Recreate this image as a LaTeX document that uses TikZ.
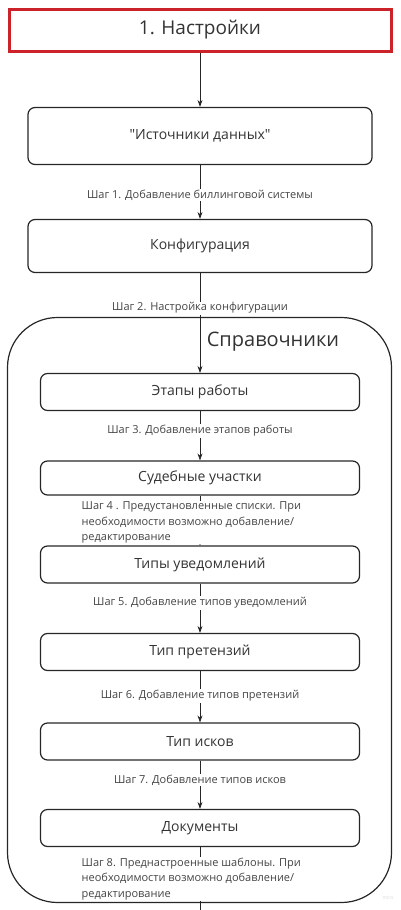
\documentclass[tikz,border=0pt]{standalone}
\usepackage{fontspec}
\setmainfont{Open Sans}
\usepackage{tikz}
\usetikzlibrary{arrows.meta, positioning}
\usepackage{xcolor}
\definecolor{alertred}{HTML}{CC2229}
\definecolor{inkgray}{HTML}{333333}
\definecolor{notegray}{HTML}{444444}

\tikzset{
    stagebox/.style={draw=black!85, rounded corners=7pt, line width=1.2pt, text=inkgray, font=\fontsize{14}{16}\selectfont},
    bigbox/.style={stagebox, minimum width=344pt},
    smallbox/.style={stagebox, minimum width=319pt},
    steplabel/.style={fill=white, text=notegray, font=\fontsize{11}{15.5}\selectfont, inner xsep=1.5pt, inner ysep=1pt},
    flow/.style={-{Stealth[length=7pt, width=5pt]}, line width=0.7pt, black!85}
}

\begin{document}
\begin{tikzpicture}[x=1pt, y=-1pt]
                \useasboundingbox (0,0) rectangle (400,910);

                % header
                \node[draw=alertred, line width=3pt, minimum width=382pt, minimum height=42pt, text=inkgray, font=\fontsize{19}{22}\selectfont] (settings) at (200,30) {1. Настройки};

                \node[bigbox, minimum height=57pt] (sources) at (200,136) {\textquotedbl Источники данных\textquotedbl};
                \node[bigbox, minimum height=53pt] (config) at (200,246) {Конфигурация};

                % directories frame
                \node[draw=black!85, line width=1.2pt, rounded corners=50pt, minimum width=384pt, minimum height=585pt] (refs) at (199.5,610) {};
                \node[text=inkgray, font=\fontsize{20}{24}\selectfont] (refstitle) at (273,342) {Справочники};

                \node[smallbox, minimum height=37pt] (stages) at (200,392) {Этапы работы};
                \node[smallbox, minimum height=34pt] (courts) at (200,478) {Судебные участки};
                \node[smallbox, minimum height=37pt] (notices) at (200,564.5) {Типы уведомлений};
                \node[smallbox, minimum height=37pt] (claims) at (200,652) {Тип претензий};
                \node[smallbox, minimum height=37pt] (suits) at (200,741.5) {Тип исков};
                \node[smallbox, minimum height=37pt] (docs) at (200,828) {Документы};
                \coordinate (tail) at (200,910);

                % connectors
                \draw[flow] (settings) -- (sources);
                \draw[flow] (sources) -- (config);
                \draw[flow] (config) -- (stages);
                \draw[flow] (stages) -- (courts);
                \draw[flow] (courts) -- (notices);
                \draw[flow] (notices) -- (claims);
                \draw[flow] (claims) -- (suits);
                \draw[flow] (suits) -- (docs);
                \draw[line width=0.7pt, black!85] (docs) -- (tail);

                % step notes
                \node[steplabel] (step1) at (200,195) {Шаг 1. Добавление биллинговой системы};
                \node[steplabel] (step2) at (200,308) {Шаг 2. Настройка конфигурации};
                \node[steplabel] (step3) at (200,431) {Шаг 3. Добавление этапов работы};
                \node[steplabel, align=left, anchor=west] (step4) at (80,522.5) {Шаг 4 . Предустановленные списки. При\\необходимости возможно добавление/\\редактирование};
                \node[steplabel] (step5) at (200,603) {Шаг 5. Добавление типов уведомлений};
                \node[steplabel] (step6) at (200,696) {Шаг 6. Добавление типов претензий};
                \node[steplabel] (step7) at (200,780) {Шаг 7. Добавление типов исков};
                \node[steplabel, align=left, anchor=west] (step8) at (80,879) {Шаг 8. Преднастроенные шаблоны. При\\необходимости возможно добавление/\\редактирование};

                \node[text=black!15, font=\fontsize{5}{6}\selectfont] (mark) at (388,898) {miro};
            \end{tikzpicture}
\end{document}
